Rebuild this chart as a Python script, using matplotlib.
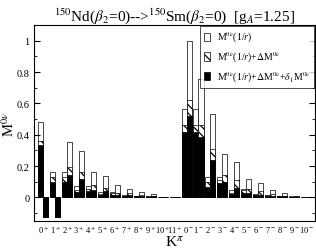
import numpy as np
import matplotlib
matplotlib.use("Agg")
import matplotlib.pyplot as plt
import matplotlib.transforms as mtransforms
from matplotlib.patches import Patch
from matplotlib.ticker import MultipleLocator, FuncFormatter

plt.rcParams['font.family'] = ['Liberation Serif', 'DejaVu Serif']
plt.rcParams['mathtext.fontset'] = 'stix'
plt.rcParams['hatch.linewidth'] = 0.9

# K^pi categories
k_labels = ['0$^+$', '1$^+$', '2$^+$', '3$^+$', '4$^+$', '5$^+$', '6$^+$', '7$^+$',
            '8$^+$', '9$^+$', '10$^+$', '11$^+$',
            '0$^-$', '1$^-$', '2$^-$', '3$^-$', '4$^-$', '5$^-$', '6$^-$', '7$^-$',
            '8$^-$', '9$^-$', '10$^-$']

# left bar of each pair
left_open = [0.48, 0.163, 0.163, 0.07, 0.07, 0.032, 0.032, 0.015, 0.010, 0.008, 0.004, 0.002,
             0.567, 0.567, 0.133, 0.133, 0.049, 0.052, 0.020, 0.017, 0.008, 0.006, 0.004]
left_hatch = [0.363, 0.13, 0.13, 0.049, 0.055, 0.021, 0.025, 0.010, 0.007, 0.006, 0.003, 0.002,
              0.46, 0.46, 0.10, 0.11, 0.030, 0.045, 0.017, 0.014, 0.007, 0.005, 0.003]
left_black = [0.335, 0.10, 0.10, 0.032, 0.038, 0.013, 0.018, 0.008, 0.006, 0.005, 0.003, 0.002,
              0.42, 0.42, 0.068, 0.09, 0.020, 0.030, 0.015, 0.012, 0.006, 0.004, 0.003]

# right bar of each pair
right_open = [-0.123, -0.123, 0.352, 0.293, 0.163, 0.134, 0.076, 0.055, 0.032, 0.023, 0.005, 0.003,
              0.996, 0.758, 0.534, 0.28, 0.225, 0.117, 0.093, 0.045, 0.031, 0.008, 0.004]
right_hatch = [-0.123, -0.123, 0.197, 0.161, 0.079, 0.062, 0.030, 0.025, 0.014, 0.010, 0.004, 0.002,
               0.624, 0.46, 0.312, 0.142, 0.11, 0.052, 0.040, 0.020, 0.010, 0.006, 0.003]
right_black = [-0.123, -0.123, 0.144, 0.117, 0.049, 0.038, 0.018, 0.014, 0.008, 0.006, 0.003, 0.002,
               0.52, 0.386, 0.238, 0.10, 0.057, 0.030, 0.017, 0.010, 0.006, 0.005, 0.003]

x = np.arange(len(k_labels))
w = 0.42
hatch = '\\\\\\\\'

fig = plt.figure(figsize=(3.16, 2.51), dpi=100)
ax = fig.add_axes([0.108, 0.116, 0.889, 0.78])

for off, o, h, b in [(-w / 2, left_open, left_hatch, left_black),
                     (w / 2, right_open, right_hatch, right_black)]:
    ax.bar(x + off, o, w, color='white', edgecolor='black', linewidth=0.5)
    ax.bar(x + off, h, w, color='white', edgecolor='black', linewidth=0.5, hatch=hatch)
    ax.bar(x + off, b, w, color='black', edgecolor='black', linewidth=0.5)

ax.set_xlim(-0.75, 22.75)
ax.set_ylim(-0.15, 1.1)
ax.set_xticks(x)
ax.set_xticklabels(k_labels, fontsize=6)
ax.tick_params(axis='x', length=0, pad=2)

# 0- label sits right after 11+, push it a touch to the right
tl = ax.get_xticklabels()
tl[12].set_transform(tl[12].get_transform() +
                     mtransforms.ScaledTranslation(0.02, 0, fig.dpi_scale_trans))

ax.yaxis.set_major_locator(MultipleLocator(0.2))
ax.yaxis.set_minor_locator(MultipleLocator(0.1))
ax.yaxis.set_major_formatter(FuncFormatter(lambda v, p: '%g' % round(v, 2)))
ax.tick_params(axis='y', which='both', direction='in', right=True, labelsize=7.5)
ax.tick_params(axis='y', which='major', length=4)
ax.tick_params(axis='y', which='minor', length=2)

ax.set_ylabel('M$^{0\\nu}$', fontsize=10.5)
ax.yaxis.set_label_coords(-0.062, 0.5)
ax.set_xlabel('K$^{\\pi}$', fontsize=11)
ax.xaxis.set_label_coords(0.5, -0.07)
ax.set_title('$^{150}$Nd($\\beta_2$=0)-->$^{150}$Sm($\\beta_2$=0)  [g$_A$=1.25]',
             fontsize=11, pad=3)

handles = [Patch(facecolor='white', edgecolor='black', linewidth=0.5),
           Patch(facecolor='white', edgecolor='black', linewidth=0.5, hatch=hatch),
           Patch(facecolor='black', edgecolor='black', linewidth=0.5)]
names = ['M$^{0\\nu}$(1/$r$)',
         'M$^{0\\nu}$(1/$r$)+$\\Delta$M$^{0\\nu}$',
         'M$^{0\\nu}$(1/$r$)+$\\Delta$M$^{0\\nu}$+$\\delta_1$M$^{0\\nu}$']
leg = ax.legend(handles, names, loc='upper right', fontsize=7, frameon=True,
                fancybox=False, edgecolor='black', handlelength=0.6, handleheight=0.9,
                borderaxespad=0.1, labelspacing=0.55, handletextpad=0.7, borderpad=0.4)
leg.get_frame().set_linewidth(0.6)

fig.savefig('out.png', dpi=100)
